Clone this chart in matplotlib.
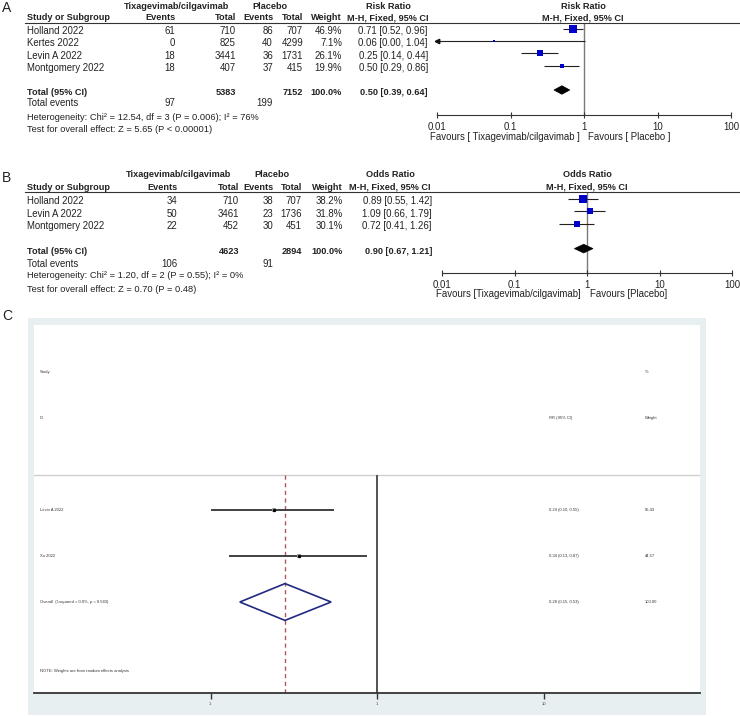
import matplotlib
matplotlib.use('Agg')
import matplotlib.pyplot as plt
import numpy as np
from matplotlib.patches import Rectangle, Polygon
from matplotlib.lines import Line2D
from matplotlib import transforms

plt.rcParams['font.family'] = ['Liberation Sans', 'DejaVu Sans']

# ---------------- data ----------------
# Panel A (Risk ratio)
a_studies = ["Holland 2022", "Kertes 2022", "Levin A 2022", "Montgomery 2022"]
a_tx_events = [61, 0, 18, 18]
a_tx_total = [710, 825, 3441, 407]
a_pl_events = [86, 40, 36, 37]
a_pl_total = [707, 4299, 1731, 415]
a_weight = [46.9, 7.1, 26.1, 19.9]
a_est = [0.71, 0.06, 0.25, 0.50]
a_lo = [0.52, 0.00, 0.14, 0.29]
a_hi = [0.96, 1.04, 0.44, 0.86]
a_total = [0.50, 0.39, 0.64]
a_tx_sum, a_pl_sum = 5383, 7152
a_tx_ev_sum, a_pl_ev_sum = 97, 199
a_het = "Heterogeneity: Chi² = 12.54, df = 3 (P = 0.006); I² = 76%"
a_test = "Test for overall effect: Z = 5.65 (P < 0.00001)"

# Panel B (Odds ratio)
b_studies = ["Holland 2022", "Levin A 2022", "Montgomery 2022"]
b_tx_events = [34, 50, 22]
b_tx_total = [710, 3461, 452]
b_pl_events = [38, 23, 30]
b_pl_total = [707, 1736, 451]
b_weight = [38.2, 31.8, 30.1]
b_est = [0.89, 1.09, 0.72]
b_lo = [0.55, 0.66, 0.41]
b_hi = [1.42, 1.79, 1.26]
b_total = [0.90, 0.67, 1.21]
b_tx_sum, b_pl_sum = 4623, 2894
b_tx_ev_sum, b_pl_ev_sum = 106, 91
b_het = "Heterogeneity: Chi² = 1.20, df = 2 (P = 0.55); I² = 0%"
b_test = "Test for overall effect: Z = 0.70 (P = 0.48)"

# Panel C (Stata forest, RR random effects)
c_studies = ["Levin A 2022", "Xu 2022"]
c_est = [0.24, 0.34]
c_lo = [0.10, 0.13]
c_hi = [0.55, 0.87]
c_weight = [55.43, 44.57]
c_overall = [0.28, 0.15, 0.53]
c_overall_label = "Overall  (I-squared = 0.0%, p = 0.583)"

ticks_rm = [0.01, 0.1, 1, 10, 100]
ticks_rm_labels = ["0.01", "0.1", "1", "10", "100"]
ticks_c = [0.1, 1, 10]
ticks_c_labels = [".1", "1", "10"]

# ---------------- figure ----------------
W, H = 740, 716
fig = plt.figure(figsize=(W / 100, H / 100), dpi=100)
TXT = '#222222'
FS = 6.9
FSB = 6.6


def fx(px):
    return px / W


def fy(py):
    return 1 - py / H


def txt(x, y, s, ha='left', size=None, weight='normal', color=TXT):
    if size is None:
        size = FSB if weight == 'bold' else FS
    fig.text(fx(x), fy(y), s, ha=ha, va='center', fontsize=size,
             fontweight=weight, color=color)


def add_ax(l, t, r, b):
    return fig.add_axes([l / W, 1 - b / H, (r - l) / W, (b - t) / H])


def hline_fig(x0, x1, y, color='#333333', lw=0.8):
    fig.add_artist(Line2D([fx(x0), fx(x1)], [fy(y), fy(y)], color=color, lw=lw,
                          transform=fig.transFigure))


def revman_panel(letter, letter_y, y0, row_h, line_y, axis_y, ax_l, ax_r,
                 cols, studies, tx_ev, tx_tot, pl_ev, pl_tot, wts, est, lo, hi,
                 total, tx_sum, pl_sum, tx_ev_sum, pl_ev_sum, het, test,
                 measure, head_y, txt_rows, fav_left, fav_right, fav_y,
                 fav_lx, fav_rx, sq_scale):
    txt(2, letter_y, letter, size=10)
    c_ev, c_tot, c_pev, c_ptot, c_w, c_ci, c_tx_h, c_pl_h, c_rr_h = cols
    h1, h2 = head_y
    txt(c_tx_h, h1, "Tixagevimab/cilgavimab", ha='center', weight='bold')
    txt(c_pl_h, h1, "Placebo", ha='center', weight='bold')
    txt(c_rr_h, h1, measure, ha='center', weight='bold')
    txt(27, h2, "Study or Subgroup", weight='bold')
    txt(c_ev, h2, "Events", ha='right', weight='bold')
    txt(c_tot, h2, "Total", ha='right', weight='bold')
    txt(c_pev, h2, "Events", ha='right', weight='bold')
    txt(c_ptot, h2, "Total", ha='right', weight='bold')
    txt(c_w, h2, "Weight", ha='right', weight='bold')
    txt(c_rr_h, h2, "M-H, Fixed, 95% CI", ha='center', weight='bold')
    hline_fig(25, 740, line_y)

    row_ys, tot_y, tev_y, het_y, test_y = txt_rows
    for i, s in enumerate(studies):
        y = row_ys[i]
        txt(27, y, s)
        txt(c_ev, y, str(tx_ev[i]), ha='right')
        txt(c_tot, y, str(tx_tot[i]), ha='right')
        txt(c_pev, y, str(pl_ev[i]), ha='right')
        txt(c_ptot, y, str(pl_tot[i]), ha='right')
        txt(c_w, y, f"{wts[i]:.1f}%", ha='right')
        txt(c_ci, y, f"{est[i]:.2f} [{lo[i]:.2f}, {hi[i]:.2f}]", ha='right')
    txt(27, tot_y, "Total (95% CI)", weight='bold')
    txt(c_tot, tot_y, str(tx_sum), ha='right', weight='bold')
    txt(c_ptot, tot_y, str(pl_sum), ha='right', weight='bold')
    txt(c_w, tot_y, "100.0%", ha='right', weight='bold')
    txt(c_ci, tot_y, f"{total[0]:.2f} [{total[1]:.2f}, {total[2]:.2f}]",
        ha='right', weight='bold')
    txt(27, tev_y, "Total events")
    txt(c_ev, tev_y, str(tx_ev_sum), ha='right')
    txt(c_pev, tev_y, str(pl_ev_sum), ha='right')
    txt(27, het_y, het, size=6.7)
    txt(27, test_y, test, size=6.7)

    # forest axes
    n = len(studies)
    tot_row = n + 1
    ax = add_ax(ax_l, line_y, ax_r, axis_y)
    ax.set_xscale('log')
    ax.set_xlim(0.01, 100)
    top = (line_y - y0) / row_h
    bot = (axis_y - y0) / row_h
    ax.set_ylim(bot, top)
    ax.patch.set_alpha(0)
    for sp in ['top', 'left', 'right']:
        ax.spines[sp].set_visible(False)
    ax.spines['bottom'].set_color('#333333')
    ax.spines['bottom'].set_linewidth(0.8)
    ax.set_yticks([])
    ax.set_xticks(ticks_rm)
    ax.set_xticklabels(ticks_rm_labels)
    ax.xaxis.set_minor_locator(matplotlib.ticker.NullLocator())
    ax.tick_params(axis='x', direction='inout', length=4.5, width=0.8,
                   color='#333333', labelsize=FS, labelcolor=TXT, pad=2.5)
    ax.axvline(1, color='#7a7a7a', lw=1.0, zorder=1)
    xmin = 0.01
    for i in range(n):
        l = max(lo[i], xmin)
        ax.hlines(i, l, hi[i], color='#222222', lw=0.8, zorder=2, clip_on=False)
        if lo[i] < xmin:
            ax.plot([xmin], [i], marker='<', ms=3.2, color='#111111',
                    clip_on=False, zorder=3)
        ax.plot([est[i]], [i], marker='s', ms=np.sqrt(wts[i]) * sq_scale,
                color='#0000c8', mec='#0000c8', mew=0, zorder=3, clip_on=False)
    hh = 0.35
    dia = Polygon([(total[1], tot_row), (total[0], tot_row - hh),
                   (total[2], tot_row), (total[0], tot_row + hh)],
                  closed=True, facecolor='black', edgecolor='black', lw=0.5,
                  zorder=3)
    ax.add_patch(dia)
    txt(fav_lx, fav_y, fav_left, ha='right')
    txt(fav_rx, fav_y, fav_right, ha='left')
    return ax


# Panel A
a_rows_txt = [31 + 12.3 * i for i in range(len(a_studies))]
revman_panel("A", 8.5, 29.0, 12.2, 22.7, 115.0, 437, 731,
             (175, 236, 273, 303, 342, 428, 177, 270, 388),
             a_studies, a_tx_events, a_tx_total, a_pl_events, a_pl_total,
             a_weight, a_est, a_lo, a_hi, a_total, a_tx_sum, a_pl_sum,
             a_tx_ev_sum, a_pl_ev_sum, a_het, a_test, "Risk Ratio",
             (6.5, 18.0), (a_rows_txt, 92.5, 103.0, 117.0, 130.0),
             "Favours [ Tixagevimab/cilgavimab ]", "Favours [ Placebo ]",
             136.5, 580, 588, 0.75)
txt(583, 6.5, "Risk Ratio", ha='center', weight='bold')
txt(583, 18.0, "M-H, Fixed, 95% CI", ha='center', weight='bold')

# Panel B
b_rows_txt = [201.5 + 12.3 * i for i in range(len(b_studies))]
revman_panel("B", 178, 199.0, 12.4, 191.7, 273.3, 442, 732,
             (177, 239, 273, 302, 343, 432, 178, 272, 390),
             b_studies, b_tx_events, b_tx_total, b_pl_events, b_pl_total,
             b_weight, b_est, b_lo, b_hi, b_total, b_tx_sum, b_pl_sum,
             b_tx_ev_sum, b_pl_ev_sum, b_het, b_test, "Odds Ratio",
             (174.5, 187.0), (b_rows_txt, 251.7, 264.0, 276.0, 289.5),
             "Favours [Tixagevimab/cilgavimab]", "Favours [Placebo]",
             294.0, 581, 590, 0.85)
txt(587, 174.5, "Odds Ratio", ha='center', weight='bold')
txt(587, 187.0, "M-H, Fixed, 95% CI", ha='center', weight='bold')

# Panel C
txt(2, 316, "C", size=10)
fig.add_artist(Rectangle((fx(28), fy(715)), (706 - 28) / W, (715 - 318) / H,
                         transform=fig.transFigure, facecolor='#e7eff1',
                         edgecolor='none', zorder=0))
axc = add_ax(34, 325, 700, 693)
axc.set_facecolor('white')
axc.set_xscale('log')
px_per_dec = 166.5
axc.set_xlim(10 ** ((34 - 377) / px_per_dec), 10 ** ((700 - 377) / px_per_dec))
row0, rh = 510.0, 46.0
ybot = (693 - row0) / rh
axc.set_ylim(ybot, (325 - row0) / rh)
sep = (475 - row0) / rh
for sp in ['top', 'left', 'right']:
    axc.spines[sp].set_visible(False)
axc.spines['bottom'].set_color('#333333')
axc.spines['bottom'].set_linewidth(1.3)
axc.set_yticks([])
axc.set_xticks(ticks_c)
axc.set_xticklabels(ticks_c_labels)
axc.xaxis.set_minor_locator(matplotlib.ticker.NullLocator())
axc.tick_params(axis='x', direction='out', length=4.3, width=1.0,
                color='#333333', labelsize=3, labelcolor='#444444', pad=2)
axc.axhline(sep, color='#cfcfcf', lw=1.0)
axc.vlines(1, sep, ybot, color='#444444', lw=1.3)
axc.vlines(c_overall[0], sep, ybot, color='#b5545e', lw=1.0,
           linestyles=(0, (3, 2.5)))
for i in range(len(c_studies)):
    axc.hlines(i, c_lo[i], c_hi[i], color='#333333', lw=1.3)
    axc.plot([c_est[i]], [i], marker='s', ms=np.sqrt(c_weight[i]) * 0.45,
             color='#a8a8a8', mew=0, zorder=3)
    axc.plot([c_est[i]], [i], marker='o', ms=2.5, color='black', mew=0,
             zorder=4)
orow = len(c_studies)
dh = 0.4
axc.add_patch(Polygon([(c_overall[1], orow), (c_overall[0], orow - dh),
                       (c_overall[2], orow), (c_overall[0], orow + dh)],
                      closed=True, fill=False, edgecolor='#1f2a80', lw=1.2,
                      zorder=3))

tc = transforms.blended_transform_factory(fig.transFigure, axc.transData)


def ctxt(x, r, s):
    axc.text(fx(x), r, s, transform=tc, ha='left', va='center', fontsize=3,
             color='#333333')


ctxt(40, -3, "Study")
ctxt(645, -3, "%")
ctxt(40, -2, "ID")
ctxt(549, -2, "RR (95% CI)")
ctxt(645, -2, "Weight")
for i, s in enumerate(c_studies):
    ctxt(40, i, s)
    ctxt(549, i, f"{c_est[i]:.2f} ({c_lo[i]:.2f}, {c_hi[i]:.2f})")
    ctxt(645, i, f"{c_weight[i]:.2f}")
ctxt(40, orow, c_overall_label)
ctxt(549, orow, f"{c_overall[0]:.2f} ({c_overall[1]:.2f}, {c_overall[2]:.2f})")
ctxt(645, orow, "100.00")
ctxt(40, 3.5, "NOTE: Weights are from random effects analysis")

fig.savefig("out.png", dpi=100)
